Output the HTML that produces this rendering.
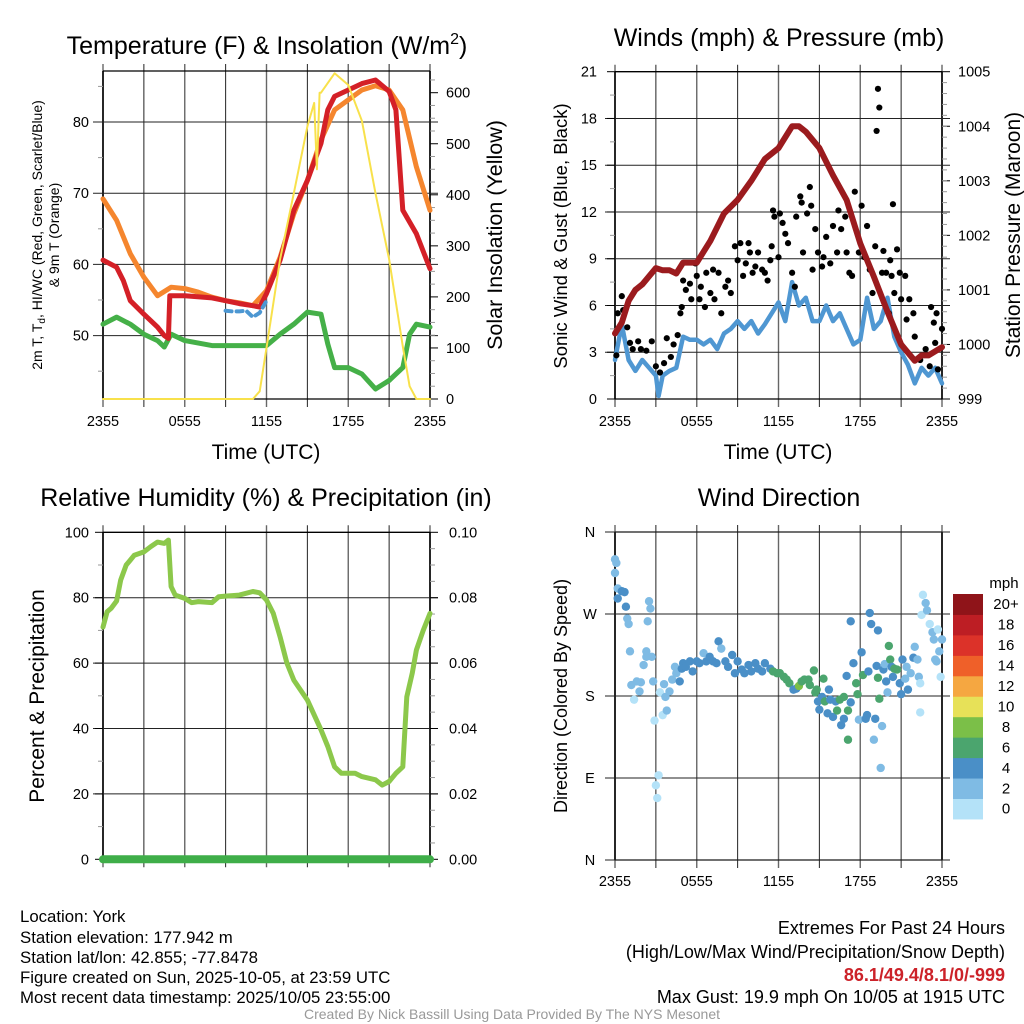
<!DOCTYPE html>
<html><head><meta charset="utf-8"><style>
html,body{margin:0;padding:0;background:#fff}
svg{display:block;font-family:"Liberation Sans",sans-serif}
</style></head><body>
<svg id="s" width="1024" height="1024" viewBox="0 0 1024 1024" xmlns="http://www.w3.org/2000/svg">
<g id="g"></g>
<text x="267" y="54" font-size="25" text-anchor="middle">Temperature (F) &amp; Insolation (W/m<tspan dy="-10" font-size="16">2</tspan><tspan dy="10">)</tspan></text>
<text x="779" y="46" font-size="25" text-anchor="middle">Winds (mph) &amp; Pressure (mb)</text>
<text x="266" y="506" font-size="25" text-anchor="middle">Relative Humidity (%) &amp; Precipitation (in)</text>
<text x="779" y="506" font-size="25" text-anchor="middle">Wind Direction</text>
<text transform="translate(42,235) rotate(-90)" font-size="14" text-anchor="middle">2m T, T<tspan dy="3" font-size="10">d</tspan><tspan dy="-3">, HI/WC (Red, Green, Scarlet/Blue)</tspan></text>
<text transform="translate(59,235) rotate(-90)" font-size="14" text-anchor="middle">&amp; 9m T (Orange)</text>
<text transform="translate(502,235) rotate(-90)" font-size="21.5" text-anchor="middle">Solar Insolation (Yellow)</text>
<text transform="translate(567,236) rotate(-90)" font-size="18.5" text-anchor="middle">Sonic Wind &amp; Gust (Blue, Black)</text>
<text transform="translate(1020,235) rotate(-90)" font-size="21" text-anchor="middle">Station Pressure (Maroon)</text>
<text transform="translate(44,696) rotate(-90)" font-size="21" text-anchor="middle">Percent &amp; Precipitation</text>
<text transform="translate(567,696) rotate(-90)" font-size="18" text-anchor="middle">Direction (Colored By Speed)</text>
<text x="266" y="459" font-size="21" text-anchor="middle">Time (UTC)</text>
<text x="778" y="459" font-size="21" text-anchor="middle">Time (UTC)</text>
<text x="1004" y="588" font-size="15" text-anchor="middle">mph</text>
<g font-size="16.8">
<text x="20" y="922">Location: York</text>
<text x="20" y="943">Station elevation: 177.942 m</text>
<text x="20" y="963">Station lat/lon: 42.855; -77.8478</text>
<text x="20" y="983">Figure created on Sun, 2025-10-05, at 23:59 UTC</text>
<text x="20" y="1003">Most recent data timestamp: 2025/10/05 23:55:00</text>
</g>
<g font-size="18" text-anchor="end">
<text x="1005" y="934">Extremes For Past 24 Hours</text>
<text x="1005" y="958">(High/Low/Max Wind/Precipitation/Snow Depth)</text>
<text x="1005" y="981" fill="#cc2229" font-weight="bold">86.1/49.4/8.1/0/-999</text>
<text x="1005" y="1003">Max Gust: 19.9 mph On 10/05 at 1915 UTC</text>
</g>
<text x="512" y="1019" font-size="14" fill="#999" text-anchor="middle">Created By Nick Bassill Using Data Provided By The NYS Mesonet</text>
</svg>
<script>
// ---------- data ----------
var timeTicks = ["2355","0555","1155","1755","2355"];
var tempT  = [0,1,1.5,2,3,4,4.5,4.8,4.9,6,8,9,10,11,11.5,12,13,14,15,16,16.5,17,18,19,20,21,21.5,22,23,24];
var tempRed= [60.6,59.6,57.7,54.9,53,51.2,50,49.6,55.6,55.6,55.3,54.9,54.5,54.2,54,55.9,60.6,67.6,71.8,77,81.7,83.6,84.5,85.4,85.9,84.3,81.7,67.6,64.3,59.4];
var orangeT= [0,1,2,3,4,5,6,7,8,9,10,11,12,13,14,15,16,17,18,19,20,21,22,23,24];
var temp9m = [69.2,66.2,61.5,58.2,55.6,56.8,56.6,56.1,55.4,54.9,54.6,54.2,56.3,61,67.1,71.8,77.5,81.7,83.1,84.5,85.1,84.5,81.7,73.7,67.6];
var dewT   = [0,1,2,3,4,4.5,5,6,8,10,12,13,14,15,16,16.5,17,18,19,20,21,22,22.5,23,24];
var dewpt  = [51.6,52.6,51.6,50.2,49.3,48.4,50.2,49.3,48.6,48.6,48.6,50.2,51.6,53.3,53,48.8,45.5,45.5,44.6,42.5,43.7,45.5,50.2,51.6,51.2];
var hiT    = [9,9.5,10,10.5,11,11.5,12];
var hiwc   = [53.5,53.4,53.4,53.5,52.6,53.2,54.9];
var solarT = [0,11,11.5,12,13,14,15,15.5,15.7,15.9,16,17,18,19,20,21,22,22.5,23,24];
var solar  = [0,0,15,100,274,403,534,580,450,600,600,638,615,545,403,274,103,25,0,0];
var tempTicks = [50,60,70,80];
var solarTicks = [0,100,200,300,400,500,600];

var presT = [0,0.5,1,1.5,2,3,3.5,4,4.5,5,6,7,8,9,10,11,12,13,13.5,14,15,16,17,18,19,20,21,22,22.5,23,24];
var pres  = [1000.2,1000.4,1000.8,1001.0,1001.1,1001.4,1001.36,1001.36,1001.3,1001.5,1001.5,1001.9,1002.4,1002.65,1003.0,1003.4,1003.6,1004.0,1004.0,1003.9,1003.6,1003.1,1002.65,1001.85,1001.24,1000.6,1000.0,999.7,999.8,999.8,999.95];
var windT = [0,0.5,1,1.5,2,2.5,3,3.2,3.5,4,4.5,5,5.5,6,6.5,7,7.5,8,8.5,9,9.5,10,10.5,11,11.5,12,12.5,13,13.5,14,14.5,15,15.5,16,16.5,17,17.5,18,18.5,19,19.5,20,20.5,21,21.5,22,22.5,23,23.5,24];
var wind  = [2.5,4.8,2.5,1.8,2.5,2.0,1.5,0.2,1.5,1.8,2,4,3.8,3.8,3.5,3.8,3.2,4.2,4.5,5,4.5,5,4.2,4.8,5.5,6.2,5,7.5,6,6.5,5,5,6,5,5.5,4.5,3.5,3.8,6.5,4.5,5,6.5,4,3,2.2,1,2,1.5,2,1];
var gustT = [0.1,0.2,0.5,0.6,0.9,1.1,1.3,1.7,1.9,2.3,2.7,3.0,3.3,3.6,3.8,4.1,4.3,4.6,4.8,4.9,5.0,5.2,5.5,5.6,5.9,6.0,6.2,6.3,6.6,6.7,7.0,7.2,7.3,7.6,7.8,8.1,8.3,8.5,8.8,9.0,9.2,9.4,9.6,9.8,9.9,10.1,10.3,10.5,10.8,11.0,11.2,11.4,11.5,11.6,11.7,12.0,12.1,12.3,12.5,12.7,13.0,13.2,13.3,13.6,13.7,13.8,14.1,14.3,14.4,14.5,14.7,14.9,15.2,15.3,15.5,15.8,16.0,16.3,16.4,16.6,16.9,17.0,17.2,17.4,17.6,17.9,18.1,18.3,18.5,18.7,18.9,19.1,19.2,19.3,19.4,19.6,19.7,19.9,20.1,20.2,20.3,20.4,20.5,20.7,20.9,21.0,21.3,21.4,21.6,21.9,22.0,22.4,22.8,23.1,23.2,23.4,23.5,23.6,23.7,24.0];
var gust  = [2.8,5.5,6.6,5.7,4.6,3.6,3.2,3.7,3.2,3.1,3.7,2.1,1.7,2.3,3.9,2.7,3.5,4.1,5.5,5.9,7.6,7,7.4,6.4,8.7,7.9,6.4,7.2,5.9,8.1,6.8,8.3,6.4,8.1,5.5,7.2,7.6,6.8,9.8,8.9,10,7.9,8.7,10,9.4,8.1,8.5,9.4,8.3,8.1,7.6,8.9,9.8,12.1,11.7,9.1,11.9,11.3,10.6,10,8.1,7.2,11.7,13,12.6,9.4,11.9,13.6,12.4,8.3,10.9,9.4,8.5,9.1,10.4,8.7,11.1,9.4,12.1,10.9,11.7,9.4,8.1,7.9,13.3,9.4,12.4,9.1,11.1,8.3,6.8,9.8,17.2,19.9,18.7,8.1,9.5,8.1,5.5,8.9,7.9,12.5,6.8,9.6,8.1,6.4,7.9,5.1,6.4,5.5,4.0,2.5,3.2,2.1,5.9,4.9,3.6,5.5,1.9,4.5];
var windTicks = [0,3,6,9,12,15,18,21];
var presTicks = [999,1000,1001,1002,1003,1004,1005];

var rhT = [0,0.3,0.6,1,1.3,1.7,2,2.3,3,3.5,4,4.5,4.8,5,5.3,6,6.5,7,8,8.5,9,10,11,11.5,12,12.5,13,13.5,14,15,16,16.5,17,17.5,18,18.5,19,20,20.5,21,21.5,22,22.3,22.7,23,23.5,24];
var rh  = [71,75.7,76.8,79,85.4,90,91.5,93,94,95.6,97,96.6,97.6,83.4,80.8,79.8,78.5,78.8,78.5,80.3,80.5,80.8,81.9,81.5,79.3,75.2,68,60,54.8,48.7,39.6,34.5,28.3,26.3,26.3,26.3,25.3,24.3,22.7,23.8,26.3,28.3,49.7,57,64,70,75.2];
var precipT = [0,24];
var precip  = [0,0];
var rhTicks = [0,20,40,60,80,100];
var precipTicks = ["0.00","0.02","0.04","0.06","0.08","0.10"];

var dirT = [0,0,0.1,0.2,0.2,0.5,0.7,0.8,0.9,1.0,1.1,1.2,1.4,1.6,1.8,1.9,2.1,2.3,2.3,2.4,2.5,2.6,2.7,2.8,2.9,3.0,3.1,3.2,3.3,3.5,3.6,3.7,3.8,4.0,4.2,4.4,4.5,4.75,4.9,5.0,5.2,5.5,5.7,6.0,6.2,6.5,6.7,6.95,7.2,7.45,7.6,7.8,8.1,8.3,8.6,8.8,9.0,9.3,9.5,9.8,10.0,10.3,10.5,10.8,11.0,11.4,11.6,11.9,12.1,12.4,12.6,12.8,13.1,13.3,13.5,13.7,13.9,14.2,14.3,14.6,14.7,14.8,14.9,15.0,15.2,15.3,15.4,15.6,15.7,15.8,16.0,16.2,16.3,16.5,16.6,16.8,16.8,17.0,17.1,17.1,17.3,17.3,17.5,17.7,17.8,17.9,18.1,18.2,18.4,18.5,18.6,18.7,18.8,19.0,19.1,19.2,19.3,19.3,19.4,19.5,19.6,19.7,19.8,19.9,20.0,20.1,20.2,20.3,20.4,20.5,20.7,20.9,21.0,21.1,21.3,21.4,21.5,21.7,21.9,22.0,22.2,22.3,22.4,22.4,22.5,22.6,22.8,22.9,23.1,23.3,23.4,23.5,23.6,23.7,23.8,23.9,24.0];
var dirDeg = [315,330,326,298,287,295,294,278,265,259,229,192,176,196,185,195,214,223,229,262,284,276,223,196,153,82,68,93,184,159,193,179,164,185,198,212,205,196,210,216,212,218,207,218,216,227,218,223,218,216,240,232,218,212,225,205,218,209,205,214,207,216,210,207,216,210,207,205,205,201,198,194,187,188,191,196,198,198,192,208,184,187,174,165,179,199,174,161,187,176,157,174,164,176,148,179,155,202,164,132,262,173,216,194,182,154,228,203,155,159,207,271,259,132,155,213,200,252,177,101,147,209,215,196,184,235,220,212,201,210,209,194,182,220,199,212,187,205,222,234,220,201,194,162,269,291,282,274,259,250,242,220,218,253,229,201,242];
var dirSpd = [2,2,2,3,5,5,5,5,3,3,3,3,1,3,3,3,3,3,3,3,3,3,3,3,1,1,1,1,1,1,3,3,3,3,3,3,3,5,5,5,5,5,5,5,5,3,5,5,5,5,5,3,5,5,5,5,5,5,5,5,5,5,5,5,5,5,7,7,7,7,7,7,5,5,9,7,7,7,7,7,7,7,5,5,5,7,7,5,5,5,5,5,7,7,5,7,5,5,7,7,5,5,5,7,7,3,5,7,5,5,5,5,5,3,5,5,7,5,7,3,3,5,3,5,3,7,7,5,5,7,7,5,5,5,3,3,5,3,5,3,3,3,1,1,1,1,3,3,1,3,3,3,3,1,3,1,3];
var dirTicks = ["N","E","S","W","N"];
var cbLabels = ["0","2","4","6","8","10","12","14","16","18","20+"];
var cbColors = ["#b4e2f8","#7fbbe4","#4a8fc7","#4ba56e","#7bbf48","#e7e158","#f5a741","#ef6029","#dc3229","#bd1e24","#8f1419"];

// ---------- drawing ----------
var NS="http://www.w3.org/2000/svg";
var G=document.getElementById('g');
function mk(tag,attrs,parent){var e=document.createElementNS(NS,tag);for(var k in attrs)e.setAttribute(k,attrs[k]);(parent||G).appendChild(e);return e;}
function txt(x,y,s,anchor,size,parent){var e=mk('text',{x:x,y:y,'text-anchor':anchor,'font-size':size},parent);e.textContent=s;return e;}

var X0=103,X1=430,X0b=615,X1b=942;
var tY0=71,tY1=399;
function xA(t){return X0+t/24*(X1-X0);}
function xB(t){return X0b+t/24*(X1b-X0b);}
function yTemp(v){return 122+(80-v)*7.12;}
function ySolar(v){return 399-v*(399-92.7)/600;}
function yWind(v){return 399-v*(399-71.7)/21;}
function yPres(v){return 399-(v-999)*(399-71.7)/6;}
function yRH(v){return 859.3-v*(859.3-532.3)/100;}
function yDir(v){return 860-v/360*328;}

function frame(x0,x1,y0,y1,name){
  var g=mk('g',{});
  
  
  for(var i=0;i<=8;i++){var x=x0+i*(x1-x0)/8;
    var l=mk('line',{x1:x,x2:x,y1:y0-7,y2:y1+8,stroke:(i%2?'#222':'#666'),'stroke-width':(i%2?1:1.4)},g);
    
    }
  mk('line',{x1:x0,x2:x1,y1:y0,y2:y0,stroke:'#000','stroke-width':1.3},g);
  mk('line',{x1:x0,x2:x0,y1:y0,y2:y1,stroke:'#000','stroke-width':1.6},g);
  mk('line',{x1:x1,x2:x1,y1:y0,y2:y1,stroke:'#000','stroke-width':1.6},g);
  mk('line',{x1:x0,x2:x1,y1:y1,y2:y1,stroke:'#000','stroke-width':1.3},g);
  return g;
}
function hgrid(g,x0,x1,y,c){var l=mk('line',{x1:x0-10,x2:x1+8,y1:y,y2:y,stroke:c||'#222','stroke-width':1},g);
  
  }
function minorL(g,x,y){mk('line',{x1:x-5,x2:x,y1:y,y2:y,stroke:'#999','stroke-width':1},g);}
function minorR(g,x,y){mk('line',{x1:x,x2:x+5,y1:y,y2:y,stroke:'#999','stroke-width':1},g);}
function xticks(xf,y){for(var i=0;i<timeTicks.length;i++){var e=txt(xf(i*6),y,timeTicks[i],'middle',14.5);
  
  }}
function path(ts,vs,xf,yf,col,w,name){var d='';for(var i=0;i<ts.length;i++)d+=(i?'L':'M')+xf(ts[i]).toFixed(1)+' '+yf(vs[i]).toFixed(1);
  var p=mk('path',{d:d,fill:'none',stroke:col,'stroke-width':w,'stroke-linejoin':'round','stroke-linecap':'round'});
  
  
  return p;}

// Panel 1
var g1=frame(X0,X1,tY0,tY1,'temp-plot-area');
for(var i=0;i<tempTicks.length;i++){hgrid(g1,X0,X1,yTemp(tempTicks[i]));var e=txt(89,yTemp(tempTicks[i])+5,tempTicks[i],'end',14.5);
  
  }
for(var v=45;v<=85;v+=10)minorL(g1,X0,yTemp(v));
for(var i=0;i<solarTicks.length;i++){mk('line',{x1:X1,x2:X1+8,y1:ySolar(solarTicks[i]),y2:ySolar(solarTicks[i]),stroke:'#000'},g1);var e=txt(446,ySolar(solarTicks[i])+5,solarTicks[i],'start',14.5);
  
  }
for(var v=25;v<=625;v+=25)if(v%100)minorR(g1,X1,ySolar(v));
xticks(xA,426);
path(dewT,dewpt,xA,yTemp,'#45b048',5,'dewpoint-line');
path(orangeT,temp9m,xA,yTemp,'#f5862e',5,'temp-9m-line');
path(tempT,tempRed,xA,yTemp,'#d42027',5,'temp-2m-line');
var hp=path(hiT,hiwc,xA,yTemp,'#4c97d2',4,'heat-index-windchill-line');hp.setAttribute('stroke-dasharray','6 5');
path(solarT,solar,xA,ySolar,'#f8e14b',2,'solar-insolation-line');

// Panel 2
var g2=frame(X0b,X1b,71.7,399,'wind-plot-area');
for(var i=0;i<windTicks.length;i++){if(windTicks[i]>0&&windTicks[i]<21)hgrid(g2,X0b,X1b,yWind(windTicks[i]));
  mk('line',{x1:X0b-8,x2:X0b,y1:yWind(windTicks[i]),y2:yWind(windTicks[i]),stroke:'#000'},g2);
  var e=txt(597,yWind(windTicks[i])+5,windTicks[i],'end',14.5);
  
  }
for(var v=1.5;v<21;v+=3)minorL(g2,X0b,yWind(v));
for(var i=0;i<presTicks.length;i++){mk('line',{x1:X1b,x2:X1b+8,y1:yPres(presTicks[i]),y2:yPres(presTicks[i]),stroke:'#000'},g2);var e=txt(958,yPres(presTicks[i])+5,presTicks[i],'start',14.5);
  
  }
for(var v=999.2;v<1005;v+=0.2)minorR(g2,X1b,yPres(v));
xticks(xB,426);
path(windT,wind,xB,yWind,'#4f97d2',4.5,'sonic-wind-line');
for(var i=0;i<gustT.length;i++){var c=mk('circle',{cx:xB(gustT[i]),cy:yWind(gust[i]),r:3.1,fill:'#000'});
  
  }
path(presT,pres,xB,yPres,'#9b1b1e',6,'pressure-line');

// Panel 3
var g3=frame(X0,X1,532.3,859.3,'rh-plot-area');
for(var i=0;i<rhTicks.length;i++){var y=yRH(rhTicks[i]);if(rhTicks[i]>0&&rhTicks[i]<100)hgrid(g3,X0,X1,y);
  mk('line',{x1:X0-8,x2:X0,y1:y,y2:y,stroke:'#000'},g3);mk('line',{x1:X1,x2:X1+8,y1:y,y2:y,stroke:'#000'},g3);
  var e=txt(89,y+5,rhTicks[i],'end',14.5);
  
  
  var e2=txt(449,y+5,precipTicks[i],'start',14.5);
  
  }
for(var v=10;v<100;v+=20){minorL(g3,X0,yRH(v));minorR(g3,X1,yRH(v));}
for(var v=5;v<100;v+=10)minorR(g3,X1,yRH(v));
path(rhT,rh,xA,yRH,'#8cc84b',5,'relative-humidity-line');
path(precipT,precip,xA,function(v){return yRH(v*1000);},'#3fae49',8,'precipitation-line');

// Panel 4
var g4=frame(X0b,X1b,532,860,'direction-plot-area');
for(var i=0;i<dirTicks.length;i++){var y=yDir(i*90);hgrid(g4,X0b,X1b,y);
  var e=txt(590,y+5,dirTicks[i],'middle',14.5);
  
  }
xticks(xB,886);
function spdColor(s){var k=Math.min(10,Math.floor(s/2));return cbColors[k];}
for(var i=0;i<dirT.length;i++){var c=mk('circle',{cx:xB(dirT[i]),cy:yDir(dirDeg[i]),r:4.2,fill:spdColor(dirSpd[i])});
  
  }
var cbTop=594,cbH=20.45;
for(var i=0;i<cbColors.length;i++){var y=cbTop+(10-i)*cbH;
  var r=mk('rect',{x:953,y:y,width:30,height:cbH+0.5,fill:cbColors[i]});
  
  
  var e=txt(1006,y+cbH/2+5,cbLabels[i],'middle',15);
  
  }
</script>
</body></html>
